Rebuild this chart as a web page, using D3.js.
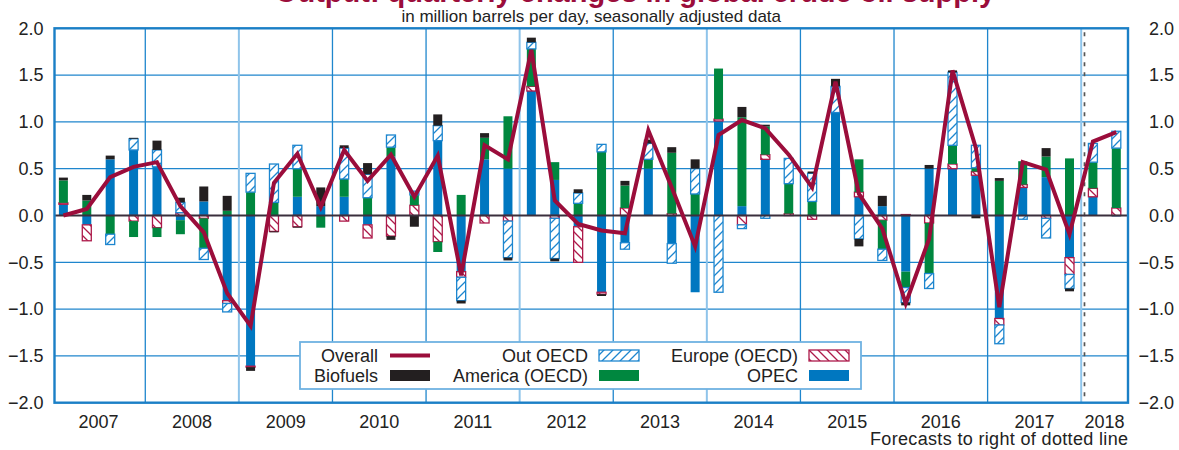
<!DOCTYPE html>
<html>
<head>
<meta charset="utf-8">
<script src="https://cdn.jsdelivr.net/npm/d3@7"></script>
<style>
  body { margin: 0; background: #fff; }
  svg { display: block; font-family: "Liberation Sans", Arial, Helvetica, sans-serif; }
</style>
</head>
<body>
<div id="chart"></div>
<script>
const quarters = [
  "2007Q1","2007Q2","2007Q3","2007Q4","2008Q1","2008Q2","2008Q3","2008Q4",
  "2009Q1","2009Q2","2009Q3","2009Q4","2010Q1","2010Q2","2010Q3","2010Q4",
  "2011Q1","2011Q2","2011Q3","2011Q4","2012Q1","2012Q2","2012Q3","2012Q4",
  "2013Q1","2013Q2","2013Q3","2013Q4","2014Q1","2014Q2","2014Q3","2014Q4",
  "2015Q1","2015Q2","2015Q3","2015Q4","2016Q1","2016Q2","2016Q3","2016Q4",
  "2017Q1","2017Q2","2017Q3","2017Q4","2018Q1","2018Q2"
];
const opec     = [0.12,-0.10,0.60,0.70,0.52,-0.05,0.15,-0.91, -1.61,0,0.20,0.10,0.20,-0.10,0.63,0,
                  0.80,-0.60,0.60,0.50,1.33,0.38,-0.12,-0.82, -0.29,0.50,-0.30,-0.82,1.01,0.10,0.60,0,
                  0,1.10,0.20,0.10,-0.60,0.50,0.50,0.43, -1.10,0.30,0.41,-0.45,0.20,-0.01];
const europe   = [0.015,-0.17,0,-0.06,-0.13,0.03,-0.03,-0.03, -0.01,-0.17,-0.12,0,-0.06,-0.14,-0.22,0.11,
                  -0.28,-0.06,-0.08,-0.06,0.05,-0.03,-0.38,-0.02, 0.08,0,0.02,0,0.02,-0.10,0.05,0.02,
                  -0.04,0,0.05,-0.05,0.01,-0.08,0.05,0.04, -0.07,0.03,-0.03,-0.18,0.09,0.08];
const america  = [0.24,0.16,-0.20,-0.17,-0.10,-0.15,-0.32,0.05, 0.25,0.14,0.30,-0.13,0.19,0.19,0.10,0.11,
                  -0.11,0.22,0.23,0.56,0.40,0.19,0.13,0.68, 0.24,0.10,0.65,0.23,0.54,0.95,0.30,0.32,
                  0.15,0,0.35,-0.31,-0.17,-0.54,0.20,0.04, 0.37,0.25,0.22,0.61,0.28,0.64];
const outOecd  = [0,0,-0.11,0.12,0.18,0.11,-0.12,-0.09, 0.20,0.41,0.25,0,0.33,0.25,0.13,0.04,
                  0.16,-0.25,0,-0.39,0.07,-0.43,0.11,0.08, -0.07,0.17,-0.21,0.27,-0.82,-0.04,-0.03,0.27,
                  0.30,0.28,-0.25,-0.12,-0.16,-0.16,0.78,0.24, -0.20,-0.04,-0.21,-0.15,0.20,0.18];
const biofuels = [0.03,0.06,0.04,0.01,0.10,0.05,0.16,0.16, -0.04,-0.01,-0.01,0.20,0.03,0.12,-0.04,-0.12,
                  0.12,-0.03,0.05,-0.03,0.05,-0.03,0.04,-0.02, 0.05,0.04,0.06,0.10,0,0.11,0.02,0,
                  0.02,0.08,-0.08,0.11,-0.03,0.04,0.02,-0.03, 0.03,0,0.09,-0.03,0,0];
const overall  = [0.00,0.07,0.41,0.52,0.57,0.10,-0.18,-0.83, -1.18,0.35,0.66,0.09,0.70,0.37,0.65,0.20,
                  0.64,-0.64,0.75,0.60,1.77,0.16,-0.09,-0.16, -0.19,0.91,0.30,-0.33,0.86,1.02,0.93,0.65,
                  0.30,1.43,0.23,-0.14,-0.94,-0.25,1.55,0.72, -0.98,0.57,0.49,-0.20,0.79,0.89];
const yTicks = [-2, -1.5, -1, -0.5, 0, 0.5, 1, 1.5, 2];
const yearLabels = [2007,2008,2009,2010,2011,2012,2013,2014,2015,2016,2017,2018];
const forecastStart = 2018.035;

const width = 1179, height = 450;
const plot = { left: 54.5, right: 1128, top: 28.3, bottom: 402.7 };

const colors = {
  opec: "#0077c0", america: "#00873f", biofuels: "#231f20",
  outOecd: "#1d86cf", europe: "#ad1a4a", overall: "#9b0d3b",
  grid: "#1f86cd", gridLight: "#8fc4ea", frame: "#1a7fc6", zero: "#3a2f3c"
};

const keys = ["opec", "europe", "america", "outOecd", "biofuels"];
const rows = quarters.map((q, i) => ({
  q, opec: opec[i], europe: europe[i], america: america[i],
  outOecd: outOecd[i], biofuels: biofuels[i], overall: overall[i]
}));

const qPos = q => +q.slice(0, 4) + (+q.slice(5) - 0.5) / 4;

const x = d3.scaleLinear().domain([2007.03, 2018.5]).range([plot.left, plot.right]);
const y = d3.scaleLinear().domain([-2, 2]).range([plot.bottom, plot.top]);

const svg = d3.select("#chart").append("svg")
  .attr("width", width).attr("height", height);

// hatch patterns
const defs = svg.append("defs");
function hatch(id, color, dir) {
  const p = defs.append("pattern").attr("id", id)
    .attr("patternUnits", "userSpaceOnUse").attr("width", 9).attr("height", 9);
  p.append("rect").attr("width", 9).attr("height", 9).attr("fill", "#fff");
  const d = dir > 0 ? "M-2,11 L11,-2 M-2,2 L2,-2 M7,11 L11,7" : "M-2,-2 L11,11 M-2,7 L2,11 M7,-2 L11,2";
  p.append("path").attr("d", d).attr("stroke", color).attr("stroke-width", 1.3);
}
hatch("hatchBlue", colors.outOecd, 1);
hatch("hatchRed", colors.europe, -1);

const fills = {
  opec: colors.opec, america: colors.america, biofuels: colors.biofuels,
  outOecd: "url(#hatchBlue)", europe: "url(#hatchRed)"
};
const strokes = { outOecd: colors.outOecd, europe: colors.europe };

// title (cut off at the top edge) and subtitle
svg.append("text")
  .attr("x", 635).attr("y", 2)
  .attr("text-anchor", "middle")
  .attr("font-size", 29).attr("font-weight", "bold")
  .attr("fill", colors.overall)
  .text("Output: quarterly changes in global crude oil supply");

svg.append("text")
  .attr("x", (plot.left + plot.right) / 2).attr("y", 22)
  .attr("text-anchor", "middle").attr("font-size", 17).attr("fill", "#222")
  .text("in million barrels per day, seasonally adjusted data");

// grid
const g = svg.append("g");
g.selectAll(".hgrid").data(yTicks.filter(t => t > -2 && t < 2 && t !== 0))
  .join("line")
  .attr("x1", plot.left).attr("x2", plot.right)
  .attr("y1", d => y(d)).attr("y2", d => y(d))
  .attr("stroke", colors.grid).attr("stroke-width", 1.3);

const lightYears = [2009, 2012, 2014, 2018];
g.selectAll(".vgrid").data(yearLabels.filter(yr => yr > 2007))
  .join("line")
  .attr("x1", d => x(d)).attr("x2", d => x(d))
  .attr("y1", plot.top).attr("y2", plot.bottom)
  .attr("stroke", d => lightYears.includes(d) ? colors.gridLight : colors.grid)
  .attr("stroke-width", d => lightYears.includes(d) ? 2 : 1.3);

// forecast dotted line
g.append("line")
  .attr("x1", x(forecastStart)).attr("x2", x(forecastStart))
  .attr("y1", plot.top + 4).attr("y2", plot.bottom)
  .attr("stroke", "#555").attr("stroke-width", 1.7).attr("stroke-dasharray", "4,6");

// stacked bars
const series = d3.stack().keys(keys).offset(d3.stackOffsetDiverging)(rows);
const barW = 9;
svg.append("g").selectAll("g").data(series).join("g")
  .each(function (s) {
    d3.select(this).selectAll("rect")
      .data(s.filter(d => Math.abs(d[1] - d[0]) > 1e-6))
      .join("rect")
      .attr("x", d => x(qPos(d.data.q)) - barW / 2)
      .attr("width", barW)
      .attr("y", d => y(Math.max(d[0], d[1])))
      .attr("height", d => Math.abs(y(d[0]) - y(d[1])))
      .attr("fill", fills[s.key])
      .attr("stroke", strokes[s.key] || "none")
      .attr("stroke-width", strokes[s.key] ? 1.3 : 0);
  });

// zero line
svg.append("line")
  .attr("x1", plot.left).attr("x2", plot.right)
  .attr("y1", y(0)).attr("y2", y(0))
  .attr("stroke", colors.zero).attr("stroke-width", 2);

// overall line
svg.append("path")
  .datum(rows)
  .attr("fill", "none")
  .attr("stroke", colors.overall)
  .attr("stroke-width", 4)
  .attr("stroke-linejoin", "miter")
  .attr("d", d3.line().x(d => x(qPos(d.q))).y(d => y(d.overall)));

// frame
svg.append("rect")
  .attr("x", plot.left).attr("y", plot.top)
  .attr("width", plot.right - plot.left).attr("height", plot.bottom - plot.top)
  .attr("fill", "none").attr("stroke", colors.frame).attr("stroke-width", 2.4);

// y axes (left and right)
const fmt = d3.format(".1f");
const leftAxis = svg.append("g").attr("transform", `translate(${plot.left},0)`)
  .call(d3.axisLeft(y).tickValues(yTicks).tickFormat(fmt).tickSize(0).tickPadding(11));
const rightAxis = svg.append("g").attr("transform", `translate(${plot.right},0)`)
  .call(d3.axisRight(y).tickValues(yTicks).tickFormat(fmt).tickSize(0).tickPadding(10));
rightAxis.selectAll("text").attr("text-anchor", "end").attr("x", 1174 - plot.right);
[leftAxis, rightAxis].forEach(a => {
  a.select(".domain").remove();
  a.selectAll("text").attr("font-size", 18).attr("fill", "#222")
    .attr("font-family", "Liberation Sans, Arial, sans-serif");
});

// year labels
svg.append("g").selectAll("text").data(yearLabels).join("text")
  .attr("x", d => x(d === 2018 ? 2018.25 : d + 0.5))
  .attr("y", 428)
  .attr("text-anchor", "middle").attr("font-size", 18).attr("fill", "#222")
  .text(d => d);

svg.append("text")
  .attr("x", plot.right).attr("y", 445)
  .attr("text-anchor", "end").attr("font-size", 18).attr("fill", "#222")
  .attr("textLength", 258).attr("lengthAdjust", "spacing")
  .text("Forecasts to right of dotted line");

// legend
const lg = svg.append("g");
lg.append("rect")
  .attr("x", 300).attr("y", 342).attr("width", 561).attr("height", 47)
  .attr("fill", "#fff").attr("stroke", "#6fb2e2").attr("stroke-width", 1.8);

const legendItems = [
  { label: "Overall", key: "overall", col: 0, row: 0 },
  { label: "Biofuels", key: "biofuels", col: 0, row: 1 },
  { label: "Out OECD", key: "outOecd", col: 1, row: 0 },
  { label: "America (OECD)", key: "america", col: 1, row: 1 },
  { label: "Europe (OECD)", key: "europe", col: 2, row: 0 },
  { label: "OPEC", key: "opec", col: 2, row: 1 }
];
const colTextEnd = [378, 588, 798];
const colSwatch = [390, 599, 809];
const rowBase = [361.5, 381.5];
legendItems.forEach(it => {
  lg.append("text")
    .attr("x", colTextEnd[it.col]).attr("y", rowBase[it.row])
    .attr("text-anchor", "end").attr("font-size", 18).attr("fill", "#222")
    .text(it.label);
  const sy = rowBase[it.row] - 11.5;
  if (it.key === "overall") {
    lg.append("line")
      .attr("x1", colSwatch[it.col]).attr("x2", colSwatch[it.col] + 40)
      .attr("y1", sy + 5.5).attr("y2", sy + 5.5)
      .attr("stroke", colors.overall).attr("stroke-width", 4);
  } else {
    lg.append("rect")
      .attr("x", colSwatch[it.col]).attr("y", sy)
      .attr("width", 40).attr("height", 11)
      .attr("fill", fills[it.key])
      .attr("stroke", strokes[it.key] || "none")
      .attr("stroke-width", strokes[it.key] ? 1.3 : 0);
  }
});
</script>
</body>
</html>
